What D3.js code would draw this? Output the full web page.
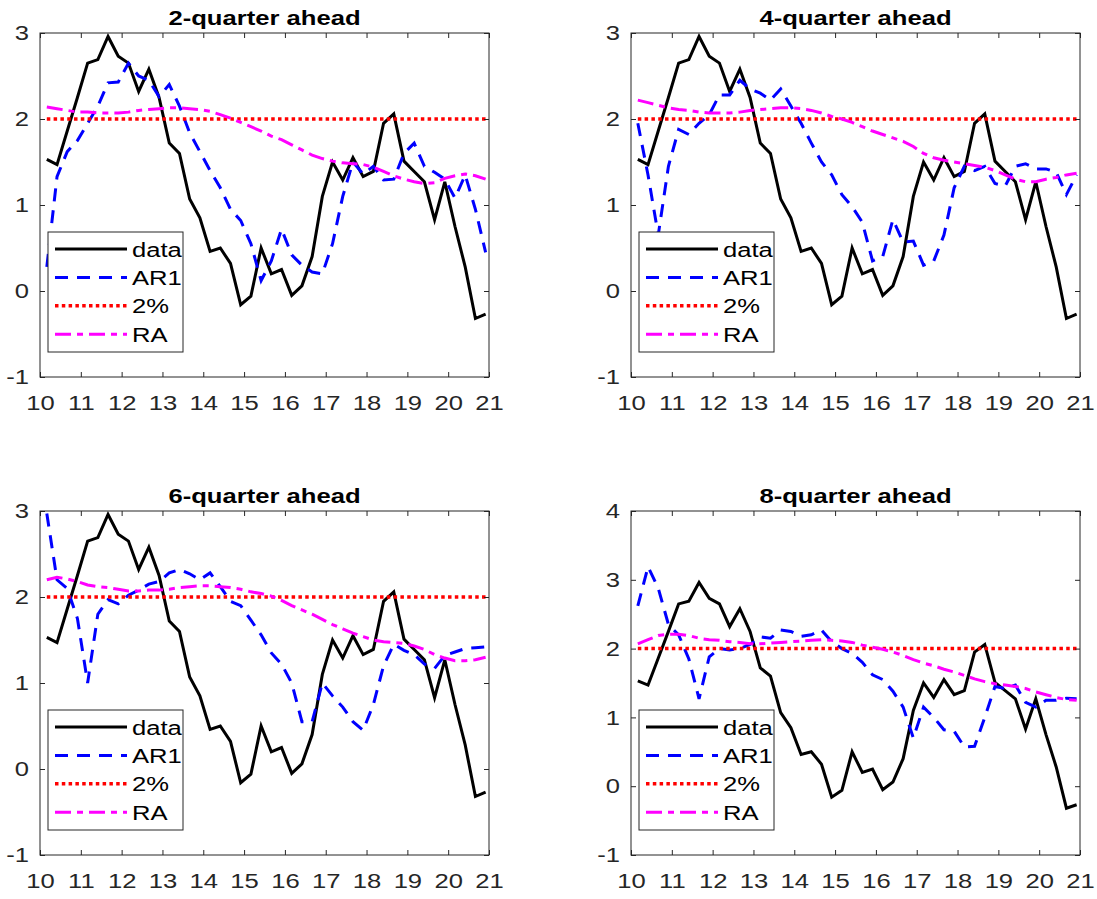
<!DOCTYPE html>
<html>
<head>
<meta charset="utf-8">
<script src="https://cdn.jsdelivr.net/npm/d3@7"></script>
<style>
  body { margin: 0; background: #fff; }
  svg { display: block; font-family: 'Liberation Sans', Arial, sans-serif; }
  .axis text { font-size: 21px; fill: #262626; }
  .axis line { stroke: #262626; }
  .title { font-size: 21px; font-weight: bold; fill: #000; }
  .legend text { font-size: 21px; fill: #000; }
</style>
</head>
<body>
<script>
// quarter dates (year - 2000, middle month of the quarter)
const dates = [10.167, 10.417, 10.667, 10.917, 11.167, 11.417, 11.667, 11.917,
  12.167, 12.417, 12.667, 12.917, 13.167, 13.417, 13.667, 13.917,
  14.167, 14.417, 14.667, 14.917, 15.167, 15.417, 15.667, 15.917,
  16.167, 16.417, 16.667, 16.917, 17.167, 17.417, 17.667, 17.917,
  18.167, 18.417, 18.667, 18.917, 19.167, 19.417, 19.667, 19.917,
  20.167, 20.417, 20.667, 20.917];

const inflation = [1.53, 1.47, 1.86, 2.25, 2.65, 2.69, 2.96, 2.73, 2.65, 2.32, 2.58, 2.25,
  1.72, 1.60, 1.07, 0.85, 0.46, 0.50, 0.32, -0.16, -0.06, 0.50, 0.20, 0.25,
  -0.05, 0.06, 0.40, 1.10, 1.50, 1.29, 1.55, 1.33, 1.39, 1.95, 2.06, 1.51,
  1.39, 1.27, 0.83, 1.27, 0.75, 0.28, -0.32, -0.27];

const target = 2;

const ar1Q2 = [0.28, 1.33, 1.62, 1.75, 1.95, 2.15, 2.42, 2.43, 2.65, 2.50, 2.45, 2.26,
  2.40, 2.15, 1.84, 1.62, 1.40, 1.20, 0.95, 0.82, 0.55, 0.12, 0.35, 0.72,
  0.42, 0.30, 0.22, 0.20, 0.55, 1.10, 1.50, 1.36, 1.45, 1.29, 1.30, 1.60,
  1.72, 1.45, 1.38, 1.30, 1.08, 1.35, 0.95, 0.45];
const ar1Q4 = [1.95, 1.35, 0.65, 1.45, 1.88, 1.82, 1.95, 2.05, 2.28, 2.28, 2.45, 2.35,
  2.30, 2.22, 2.35, 2.15, 1.95, 1.72, 1.50, 1.35, 1.12, 0.98, 0.80, 0.35,
  0.40, 0.83, 0.57, 0.58, 0.30, 0.35, 0.65, 1.20, 1.45, 1.40, 1.45, 1.25,
  1.22, 1.45, 1.48, 1.42, 1.42, 1.38, 1.12, 1.35];
const ar1Q6 = [2.97, 2.20, 2.10, 1.75, 1.00, 1.80, 1.97, 1.92, 2.02, 2.08, 2.15, 2.18,
  2.28, 2.32, 2.27, 2.20, 2.28, 2.12, 1.95, 1.90, 1.73, 1.56, 1.35, 1.22,
  1.00, 0.55, 0.55, 1.00, 0.85, 0.72, 0.55, 0.45, 0.75, 1.20, 1.45, 1.38,
  1.33, 1.22, 1.17, 1.32, 1.36, 1.40, 1.41, 1.42];
const ar1Q8 = [2.62, 3.19, 2.88, 2.35, 2.20, 1.85, 1.27, 1.88, 2.00, 1.98, 2.00, 2.06,
  2.17, 2.15, 2.27, 2.25, 2.18, 2.20, 2.27, 2.10, 2.00, 1.93, 1.80, 1.62,
  1.55, 1.38, 1.15, 0.70, 1.15, 1.00, 0.82, 0.80, 0.57, 0.58, 1.00, 1.45,
  1.42, 1.47, 1.22, 1.15, 1.25, 1.25, 1.28, 1.27];

const raQ2 = [2.14, 2.12, 2.10, 2.08, 2.08, 2.07, 2.07, 2.07, 2.08, 2.10, 2.11, 2.12,
  2.13, 2.13, 2.12, 2.11, 2.09, 2.05, 2.01, 1.96, 1.91, 1.86, 1.80, 1.76,
  1.70, 1.64, 1.58, 1.54, 1.51, 1.49, 1.48, 1.47, 1.44, 1.39, 1.34, 1.30,
  1.27, 1.25, 1.26, 1.31, 1.34, 1.36, 1.34, 1.30];
const raQ4 = [2.22, 2.19, 2.16, 2.13, 2.11, 2.10, 2.08, 2.07, 2.07, 2.07, 2.08, 2.10,
  2.11, 2.12, 2.13, 2.13, 2.12, 2.10, 2.07, 2.03, 2.00, 1.96, 1.91, 1.86,
  1.82, 1.78, 1.74, 1.68, 1.60, 1.55, 1.52, 1.50, 1.48, 1.46, 1.44, 1.40,
  1.35, 1.30, 1.27, 1.27, 1.30, 1.32, 1.35, 1.37];
const raQ6 = [2.20, 2.23, 2.21, 2.18, 2.14, 2.12, 2.11, 2.09, 2.07, 2.07, 2.08, 2.08,
  2.09, 2.11, 2.12, 2.13, 2.13, 2.12, 2.11, 2.09, 2.06, 2.04, 2.01, 1.96,
  1.90, 1.85, 1.80, 1.74, 1.68, 1.63, 1.58, 1.54, 1.50, 1.48, 1.47, 1.46,
  1.43, 1.39, 1.33, 1.29, 1.26, 1.26, 1.27, 1.30];
const raQ8 = [2.07, 2.13, 2.19, 2.21, 2.21, 2.19, 2.15, 2.13, 2.12, 2.10, 2.09, 2.07,
  2.07, 2.08, 2.09, 2.10, 2.11, 2.12, 2.13, 2.12, 2.11, 2.09, 2.05, 2.02,
  1.99, 1.95, 1.90, 1.84, 1.79, 1.75, 1.70, 1.66, 1.61, 1.56, 1.52, 1.49,
  1.47, 1.45, 1.42, 1.37, 1.33, 1.29, 1.26, 1.25];

const titles = ['2-quarter ahead', '4-quarter ahead', '6-quarter ahead', '8-quarter ahead'];
const ar1Series = [ar1Q2, ar1Q4, ar1Q6, ar1Q8];
const raSeries = [raQ2, raQ4, raQ6, raQ8];
const yMaxes = [3, 3, 3, 4];
const xTicks = [10, 11, 12, 13, 14, 15, 16, 17, 18, 19, 20, 21];
const legendLabels = ['data', 'AR1', '2%', 'RA'];

// matlab-ish styles
const styles = [
  {color: '#000000', width: 3, dash: null},
  {color: '#0000ff', width: 3, dash: '13,9'},
  {color: '#ff0000', width: 3.5, dash: '3.5,3.3'},
  {color: '#ff00ff', width: 3, dash: '16,6,6,6'}
];

const sx = 1.22; // horizontal stretch of the text in the picture

// plain hyphen for negatives, like matlab
function fmt(d) { return String(d); }

let svg = d3.select('body').append('svg')
  .attr('width', 1097)
  .attr('height', 899);

let lefts = [40, 631, 40, 631];
let tops = [33, 33, 511, 511];
let plotW = 449;
let plotH = 344;

titles.forEach(function(title, k) {
  let yMax = yMaxes[k];
  let scaleX = d3.scaleLinear().domain([10, 21]).range([0, plotW]);
  let scaleY = d3.scaleLinear().domain([-1, yMax]).range([plotH, 0]);

  let g = svg.append('g')
    .attr('transform', 'translate(' + lefts[k] + ',' + tops[k] + ')');

  g.append('clipPath').attr('id', 'clip' + k)
    .append('rect').attr('width', plotW).attr('height', plotH);

  let line = d3.line()
    .x(function(d) { return scaleX(d[0]); })
    .y(function(d) { return scaleY(d[1]); });

  let series = [
    inflation,
    ar1Series[k],
    dates.map(function() { return target; }),
    raSeries[k]
  ];

  let plot = g.append('g').attr('clip-path', 'url(#clip' + k + ')');
  series.forEach(function(vals, s) {
    plot.append('path')
      .datum(dates.map(function(d, i) { return [d, vals[i]]; }))
      .attr('d', line)
      .attr('fill', 'none')
      .attr('stroke', styles[s].color)
      .attr('stroke-width', styles[s].width)
      .attr('stroke-dasharray', styles[s].dash)
      .attr('stroke-linejoin', 'miter');
  });

  let yTicks = d3.range(-1, yMax + 1);

  // axes, ticks inside like matlab
  let xAxis = g.append('g').attr('class', 'axis')
    .attr('transform', 'translate(0,' + plotH + ')')
    .call(d3.axisBottom(scaleX).tickValues(xTicks).tickSize(-5).tickPadding(18).tickFormat(fmt));
  xAxis.selectAll('text').attr('transform', 'scale(' + sx + ',1)');

  g.append('g').attr('class', 'axis')
    .call(d3.axisTop(scaleX).tickValues(xTicks).tickSize(-5).tickFormat(''));

  let yAxis = g.append('g').attr('class', 'axis')
    .call(d3.axisLeft(scaleY).tickValues(yTicks).tickSize(-5).tickPadding(9).tickFormat(fmt));
  yAxis.selectAll('text').attr('transform', 'scale(' + sx + ',1)');

  g.append('g').attr('class', 'axis')
    .attr('transform', 'translate(' + plotW + ',0)')
    .call(d3.axisRight(scaleY).tickValues(yTicks).tickSize(-5).tickFormat(''));

  g.selectAll('.axis .domain').remove();

  g.append('rect')
    .attr('width', plotW)
    .attr('height', plotH)
    .attr('fill', 'none')
    .attr('stroke', '#262626')
    .attr('stroke-width', 1);

  // title
  g.append('text')
    .attr('class', 'title')
    .attr('text-anchor', 'middle')
    .attr('transform', 'translate(' + (plotW / 2) + ',-8) scale(' + sx + ',1)')
    .text(title);

  // legend
  let legend = g.append('g').attr('class', 'legend')
    .attr('transform', 'translate(8,' + (plotH - 25 - 120) + ')');
  legend.append('rect')
    .attr('width', 135)
    .attr('height', 120)
    .attr('fill', '#fff')
    .attr('stroke', '#262626')
    .attr('stroke-width', 1);
  legendLabels.forEach(function(label, s) {
    let ly = 17 + s * 28.4;
    legend.append('line')
      .attr('x1', 7).attr('x2', 79)
      .attr('y1', ly).attr('y2', ly)
      .attr('stroke', styles[s].color)
      .attr('stroke-width', styles[s].width)
      .attr('stroke-dasharray', styles[s].dash);
    legend.append('text')
      .attr('transform', 'translate(84,' + (ly + 7.5) + ') scale(' + sx + ',1)')
      .text(label);
  });
});
</script>
</body>
</html>
